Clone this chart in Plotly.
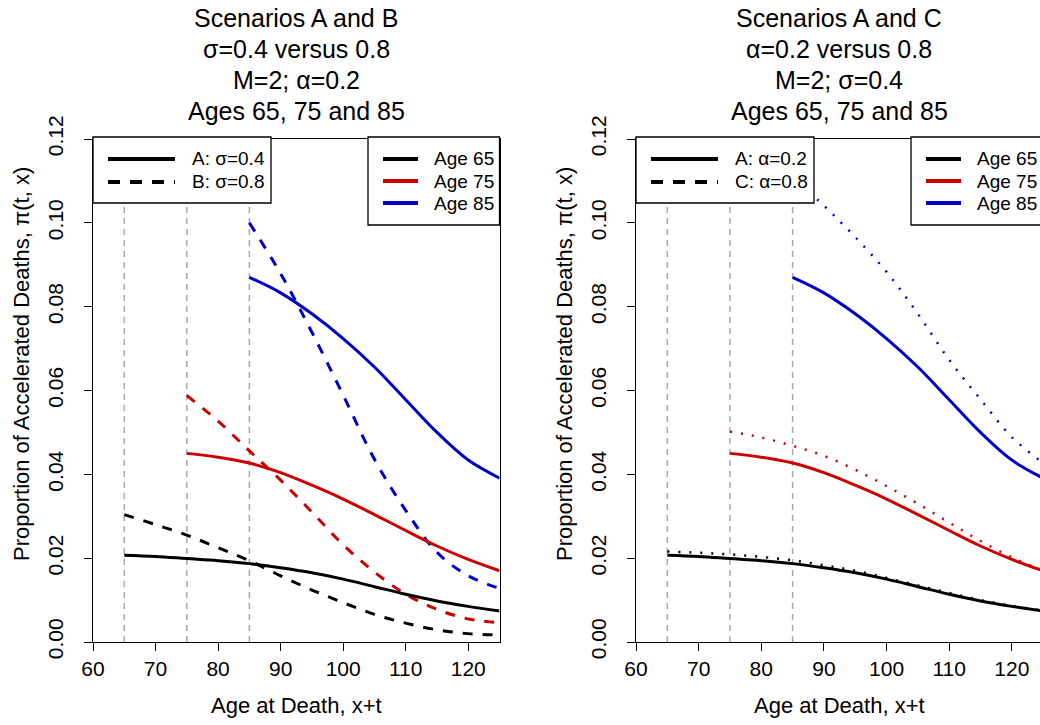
import plotly.graph_objects as go

W, H = 1040, 725

# ---- data -------------------------------------------------------------
start_ages = [65, 75, 85]
age_labels = ["Age 65", "Age 75", "Age 85"]
age_colors = ["#000000", "#CD0000", "#0000CD"]

death_age_65 = [65, 70, 75, 80, 85, 90, 95, 100, 105, 110, 115, 120, 125]
death_age_75 = [75, 80, 85, 90, 95, 100, 105, 110, 115, 120, 125]
death_age_85 = [85, 90, 95, 100, 105, 110, 115, 120, 125]

# Scenario A: sigma=0.4, alpha=0.2
pi_A_65 = [0.0207, 0.0204, 0.0199, 0.0194, 0.0187, 0.0177, 0.0165, 0.0150,
           0.0132, 0.0114, 0.0098, 0.0085, 0.0074]
pi_A_75 = [0.0450, 0.0441, 0.0427, 0.0404, 0.0374, 0.0341, 0.0304, 0.0266,
           0.0229, 0.0197, 0.0170]
pi_A_85 = [0.0870, 0.0833, 0.0783, 0.0724, 0.0656, 0.0578, 0.0500, 0.0434,
           0.0391]

# Scenario B: sigma=0.8
pi_B_65 = [0.0304, 0.0280, 0.0255, 0.0225, 0.0194, 0.0158, 0.0124, 0.0094,
           0.0066, 0.0045, 0.0029, 0.0020, 0.0017]
pi_B_75 = [0.0588, 0.0527, 0.0456, 0.0386, 0.0310, 0.0232, 0.0167, 0.0114,
           0.0078, 0.0055, 0.0046]
pi_B_85 = [0.1000, 0.0879, 0.0739, 0.0589, 0.0436, 0.0314, 0.0214, 0.0158,
           0.0128]

# Scenario C: alpha=0.8
pi_C_65 = [0.0216, 0.0213, 0.0209, 0.0203, 0.0195, 0.0183, 0.0170, 0.0153,
           0.0135, 0.0117, 0.0100, 0.0086, 0.0075]
pi_C_75 = [0.0502, 0.0488, 0.0468, 0.0444, 0.0411, 0.0372, 0.0330, 0.0285,
           0.0241, 0.0202, 0.0171]
pi_C_85 = [0.1109, 0.1041, 0.0966, 0.0883, 0.0783, 0.0673, 0.0579, 0.0489,
           0.0427]

x_ticks = [60, 70, 80, 90, 100, 110, 120]
y_ticks = [0.00, 0.02, 0.04, 0.06, 0.08, 0.10, 0.12]
y_tick_text = ["0.00", "0.02", "0.04", "0.06", "0.08", "0.10", "0.12"]

death_ages = [death_age_65, death_age_75, death_age_85]
scen_A = [pi_A_65, pi_A_75, pi_A_85]
scen_B = [pi_B_65, pi_B_75, pi_B_85]
scen_C = [pi_C_65, pi_C_75, pi_C_85]

titles_left = ["Scenarios A and B", "σ=0.4 versus 0.8", "M=2; α=0.2",
               "Ages 65, 75 and 85"]
titles_right = ["Scenarios A and C", "α=0.2 versus 0.8", "M=2; σ=0.4",
                "Ages 65, 75 and 85"]
legend_left = ["A: σ=0.4", "B: σ=0.8"]
legend_right = ["A: α=0.2", "C: α=0.8"]

# ---- styling ----------------------------------------------------------
FONT = "Liberation Sans, Arial, sans-serif"
SOLID = dict(width=3)
DASHED = dict(width=3, dash="10px,10px")
DOTTED = dict(width=2.5, dash="2px,9px")
GREY = dict(width=1.5, dash="6px,5px", color="#A8A8A8")
SMOOTH = 1.0


def px(x):
    return x / W


def py(y):
    return 1 - y / H


fig = go.Figure()

panels = [
    dict(xa="x", ya="y", second=scen_B, second_style=DASHED),
    dict(xa="x2", ya="y2", second=scen_C, second_style=DOTTED),
]

for p in panels:
    # reference lines at the starting ages
    for a in start_ages:
        fig.add_trace(go.Scatter(x=[a, a], y=[y_ticks[0], y_ticks[-1]],
                                 mode="lines", line=GREY, xaxis=p["xa"],
                                 yaxis=p["ya"], showlegend=False,
                                 hoverinfo="skip"))
    for i in range(3):
        fig.add_trace(go.Scatter(
            x=death_ages[i], y=p["second"][i], mode="lines",
            line=dict(color=age_colors[i], shape="spline", smoothing=SMOOTH,
                      **p["second_style"]),
            xaxis=p["xa"], yaxis=p["ya"], showlegend=False))
    for i in range(3):
        fig.add_trace(go.Scatter(
            x=death_ages[i], y=scen_A[i], mode="lines",
            line=dict(color=age_colors[i], shape="spline", smoothing=SMOOTH,
                      **SOLID),
            xaxis=p["xa"], yaxis=p["ya"], showlegend=False))

# ---- axes -------------------------------------------------------------
y_dom = [py(642), py(139)]
axis_common = dict(showline=True, linecolor="black", linewidth=1.3,
                   ticks="outside", ticklen=8, tickwidth=1.3,
                   tickcolor="black", showgrid=False, zeroline=False,
                   automargin=False,
                   tickfont=dict(family=FONT, size=21, color="black"))
y_extra = dict(tickvals=y_ticks, ticktext=y_tick_text, tickangle=-90,
               ticklabelstandoff=12, range=[0, 0.12], domain=y_dom)

fig.update_layout(
    xaxis=dict(domain=[px(93), px(499.5)], range=[60, 125],
               tickvals=x_ticks, mirror=True, anchor="y", **axis_common),
    yaxis=dict(mirror=True, anchor="x", **y_extra, **axis_common),
    xaxis2=dict(domain=[px(636), 1.0], range=[60, 124.5],
                tickvals=x_ticks, mirror=True, anchor="y2", **axis_common),
    yaxis2=dict(mirror=False, anchor="x2", **y_extra, **axis_common),
)

shapes = []
annotations = []


def text(x, y, s, size, angle=0, xanchor="center"):
    annotations.append(dict(x=px(x), y=py(y), xref="paper", yref="paper",
                            text=s, showarrow=False, textangle=angle,
                            xanchor=xanchor, yanchor="middle",
                            font=dict(family=FONT, size=size, color="black")))


def legend_box(x0, x1, y0, y1):
    shapes.append(dict(type="rect", xref="paper", yref="paper",
                       x0=px(x0), x1=px(x1), y0=py(y1), y1=py(y0),
                       fillcolor="white", line=dict(color="black", width=1.3),
                       layer="above"))


def legend_line(x0, x1, y, color, dash="solid"):
    shapes.append(dict(type="line", xref="paper", yref="paper",
                       x0=px(x0), x1=px(x1), y0=py(y), y1=py(y),
                       line=dict(color=color, width=4, dash=dash),
                       layer="above"))


for off, titles, lt_labels in [(0, titles_left, legend_left),
                               (543, titles_right, legend_right)]:
    cx = 296 + off
    for t, ty in zip(titles, [18, 49, 80, 111]):
        text(cx, ty, t, 25)
    text(cx, 705, "Age at Death, x+t", 22)
    text(22 + off, 364, "Proportion of Accelerated Deaths, π(t, x)", 22,
         angle=-90)

    # line-type legend (top left)
    legend_box(93 + off, 271 + off, 137, 203)
    legend_line(108 + off, 175 + off, 159, "black")
    legend_line(108 + off, 175 + off, 182, "black", "12px,10px")
    text(190 + off, 159, lt_labels[0], 19, xanchor="left")
    text(190 + off, 182, lt_labels[1], 19, xanchor="left")

    # age legend (top right)
    legend_box(368 + off, 499.5 + off, 137, 225)
    for i, ry in enumerate([159, 181, 203]):
        legend_line(383 + off, 418 + off, ry, age_colors[i])
        text(432 + off, ry, age_labels[i], 19, xanchor="left")

fig.update_layout(
    width=W, height=H,
    margin=dict(l=0, r=0, t=0, b=0),
    paper_bgcolor="white", plot_bgcolor="white",
    showlegend=False,
    shapes=shapes, annotations=annotations,
    font=dict(family=FONT, color="black"),
)

fig.write_html("out.html")
